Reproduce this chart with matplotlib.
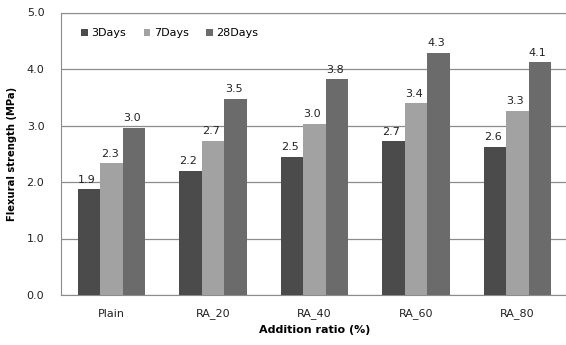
import numpy as np
import matplotlib.pyplot as plt

groups = ['Plain', 'RA_20', 'RA_40', 'RA_60', 'RA_80']
series = ['3Days', '7Days', '28Days']
days3 = [1.87, 2.20, 2.45, 2.72, 2.62]
days7 = [2.33, 2.73, 3.03, 3.39, 3.26]
days28 = [2.96, 3.47, 3.82, 4.29, 4.12]
labels3 = ['1.9', '2.2', '2.5', '2.7', '2.6']
labels7 = ['2.3', '2.7', '3.0', '3.4', '3.3']
labels28 = ['3.0', '3.5', '3.8', '4.3', '4.1']
colors = ['#4b4b4b', '#a2a2a2', '#6b6b6b']

fig = plt.figure(figsize=(5.66, 3.45), dpi=100)
ax = fig.add_axes([61/566, 50/345, 507/566, 282.5/345])

x = np.arange(len(groups))
w = 0.222
for i, (vals, labs) in enumerate(zip([days3, days7, days28], [labels3, labels7, labels28])):
    pos = x + (i - 1) * w
    ax.bar(pos, vals, w, color=colors[i], label=series[i], zorder=3)
    for p, v, t in zip(pos, vals, labs):
        ax.text(p - 0.02, v + 0.08, t, ha='center', va='bottom', fontsize=8, color='#222222')

ax.set_xlim(-0.5, len(groups) - 0.5)
ax.set_ylim(0, 5)
ax.set_yticks(np.arange(0, 5.1, 1.0))
ax.set_yticklabels(['%.1f' % v for v in np.arange(0, 5.1, 1.0)], fontsize=8)
ax.set_xticks(x)
ax.set_xticklabels(groups, fontsize=8)
ax.tick_params(length=0, colors='#222222')
ax.tick_params(axis='x', pad=15.5)
ax.tick_params(axis='y', pad=12)
for lbl in ax.get_xticklabels():
    lbl.set_verticalalignment('baseline')
ax.yaxis.grid(True, color='#8c8c8c', linewidth=0.9, zorder=0)
for s in ax.spines.values():
    s.set_color('#8c8c8c')

ax.set_xlabel('Addition ratio (%)', fontsize=8, fontweight='bold', labelpad=4)
ax.set_ylabel('Flexural strength (MPa)', fontsize=7.2, fontweight='bold', labelpad=7)

ax.legend(loc='upper left', bbox_to_anchor=(0.02, 0.98), ncol=3, frameon=False,
          fontsize=8, handlelength=0.6, handleheight=0.6, handletextpad=0.3, columnspacing=1.6)

fig.savefig('out.png', dpi=100)
